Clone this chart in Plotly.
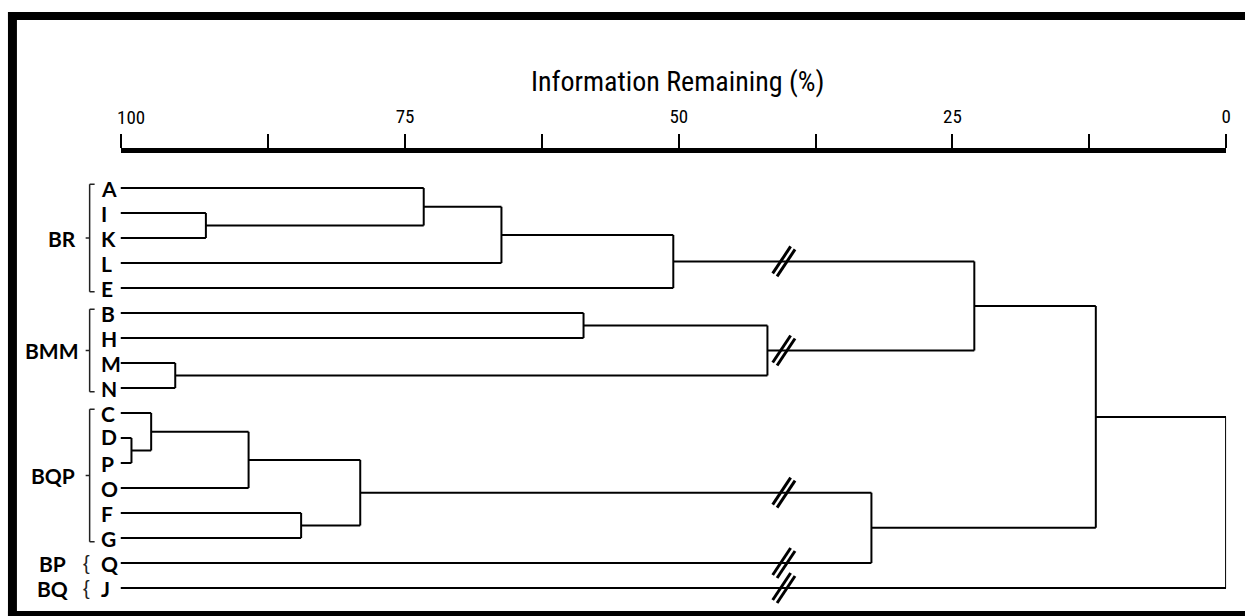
import plotly.graph_objects as go

# ---- data -------------------------------------------------------------
leaves = ["A", "I", "K", "L", "E", "B", "H", "M", "N",
          "C", "D", "P", "O", "F", "G", "Q", "J"]

# agglomeration sequence: ids 0..16 are leaves, each merge gets the next id
merge_left = [1, 0, 18, 19, 5, 7, 21, 20, 10, 9, 26, 13, 27, 29, 24, 31]
merge_right = [2, 17, 3, 4, 6, 8, 22, 23, 11, 25, 12, 14, 28, 15, 30, 16]
merge_info = [93.2, 73.3, 66.2, 50.5, 58.7, 96.0, 41.9, 23.0,
              100.0, 98.2, 89.3, 84.5, 79.1, 32.4, 11.9, 0.0]

groups = ["BR", "BMM", "BQP", "BP", "BQ"]
group_first = ["A", "B", "C", "Q", "J"]
group_last = ["E", "N", "G", "Q", "J"]

tick_vals = [87.5, 75, 62.5, 50, 37.5, 25, 12.5, 0]
tick_text = ["", "75", "", "50", "", "25", "", "0"]

# ---- layout constants ---------------------------------------------------
W, H = 1250, 616
X_START = 101.0          # left end of the scale, where the leaf lines begin
BREAK_X = 40.4           # where the broken-scale marks sit
NARROW = "Roboto Condensed, Liberation Sans Narrow, sans-serif"
BOLD = "Lato, Carlito, sans-serif"
LINE_W = 2


def px_x(p):
    return p / W


def px_y(p):
    return 1 - p / H


# ---- dendrogram geometry -----------------------------------------------
n = len(leaves)
node_x = {i: X_START for i in range(n)}
node_y = {i: float(i) for i in range(n)}
xs, ys = [], []
horizontals = []
for k, (a, b, h) in enumerate(zip(merge_left, merge_right, merge_info)):
    nid = n + k
    for c in (a, b):
        xs += [node_x[c], h, None]
        ys += [node_y[c], node_y[c], None]
        horizontals.append((node_x[c], h, node_y[c]))
    xs += [h, h, None]
    ys += [node_y[a], node_y[b], None]
    node_x[nid] = h
    node_y[nid] = (node_y[a] + node_y[b]) / 2

fig = go.Figure()
fig.add_trace(go.Scatter(x=xs, y=ys, mode="lines",
                         line=dict(color="black", width=LINE_W),
                         hoverinfo="skip", showlegend=False))

shapes = []
# "//" marks on every branch that crosses the broken part of the scale
DX, DY, OX, OY = 0.82, 0.54, 0.2, 0.06
for x0, x1, y in horizontals:
    if min(x0, x1) < BREAK_X < max(x0, x1):
        for s in (1, -1):
            cx, cy = BREAK_X + s * OX, y - s * OY
            shapes.append(dict(type="line", xref="x", yref="y",
                               x0=cx + DX, y0=cy + DY, x1=cx - DX, y1=cy - DY,
                               line=dict(color="black", width=3)))

# group brackets and labels
annotations = []
label_x = {"BR": 62, "BMM": 52, "BQP": 53, "BP": 53, "BQ": 53}
for g, first, last in zip(groups, group_first, group_last):
    i0, i1 = leaves.index(first), leaves.index(last)
    mid = (i0 + i1) / 2
    if i1 > i0:
        bx = px_x(90)
        seg = [
            (px_x(95), i0 - 0.15, bx, i0 - 0.15),
            (bx, i0 - 0.15, bx, i1 + 0.15),
            (bx, i1 + 0.15, px_x(95), i1 + 0.15),
            (px_x(86), mid, bx, mid),
        ]
        for a0, b0, a1, b1 in seg:
            shapes.append(dict(type="line", xref="paper", yref="y",
                               x0=a0, y0=b0, x1=a1, y1=b1,
                               line=dict(color="#222", width=1.5)))
    else:
        annotations.append(dict(text="{", xref="paper", yref="y",
                                x=px_x(87), y=mid, xanchor="center",
                                yanchor="middle", showarrow=False,
                                font=dict(family="Liberation Sans, sans-serif",
                                          size=20, color="#222")))
    annotations.append(dict(text=f"<b>{g}</b>", xref="paper", yref="y",
                            x=px_x(label_x[g]), y=mid, xanchor="center",
                            yanchor="middle", showarrow=False,
                            font=dict(family=BOLD, size=21, color="black")))

# leaf labels
for i, name in enumerate(leaves):
    annotations.append(dict(text=f"<b>{name}</b>", xref="paper", yref="y",
                            x=px_x(99), y=i, xanchor="left", yanchor="middle",
                            yshift=2 if name == "D" else 0,
                            showarrow=False,
                            font=dict(family=BOLD, size=21, color="black")))

# scale title and the label of the 100 % end of the scale
annotations.append(dict(text="Information Remaining (%)", xref="paper",
                        yref="paper", x=px_x(680), y=px_y(82),
                        xanchor="center", yanchor="middle", showarrow=False,
                        font=dict(family=NARROW, size=28, color="black")))
annotations.append(dict(text="100", xref="x", yref="paper", x=100,
                        y=px_y(117), xanchor="center", yanchor="middle",
                        showarrow=False,
                        font=dict(family=NARROW, size=19, color="black")))

# frame
for x0, y0, x1, y1 in [(8, 12, 17, 616), (8, 12, 1250, 20), (8, 611, 1250, 616)]:
    shapes.append(dict(type="rect", xref="paper", yref="paper",
                       x0=px_x(x0), x1=px_x(x1), y0=px_y(y1), y1=px_y(y0),
                       fillcolor="black", line=dict(width=0), layer="above"))

fig.update_layout(
    width=W, height=H,
    margin=dict(l=0, r=0, t=0, b=0),
    paper_bgcolor="white", plot_bgcolor="white",
    shapes=shapes, annotations=annotations,
    xaxis=dict(
        side="top", domain=[px_x(121), px_x(1231)], range=[X_START, 0],
        tickvals=[X_START] + tick_vals, ticktext=[""] + tick_text,
        ticks="outside", ticklen=14, tickwidth=2, tickcolor="black",
        showline=True, linewidth=5, linecolor="black",
        showgrid=False, zeroline=False, ticklabelstandoff=3,
        tickfont=dict(family=NARROW, size=19, color="black"),
    ),
    yaxis=dict(
        domain=[0, px_y(153)], range=[(616 - 188) / 25, (153 - 188) / 25],
        visible=False,
    ),
)

fig.write_html("out.html")
